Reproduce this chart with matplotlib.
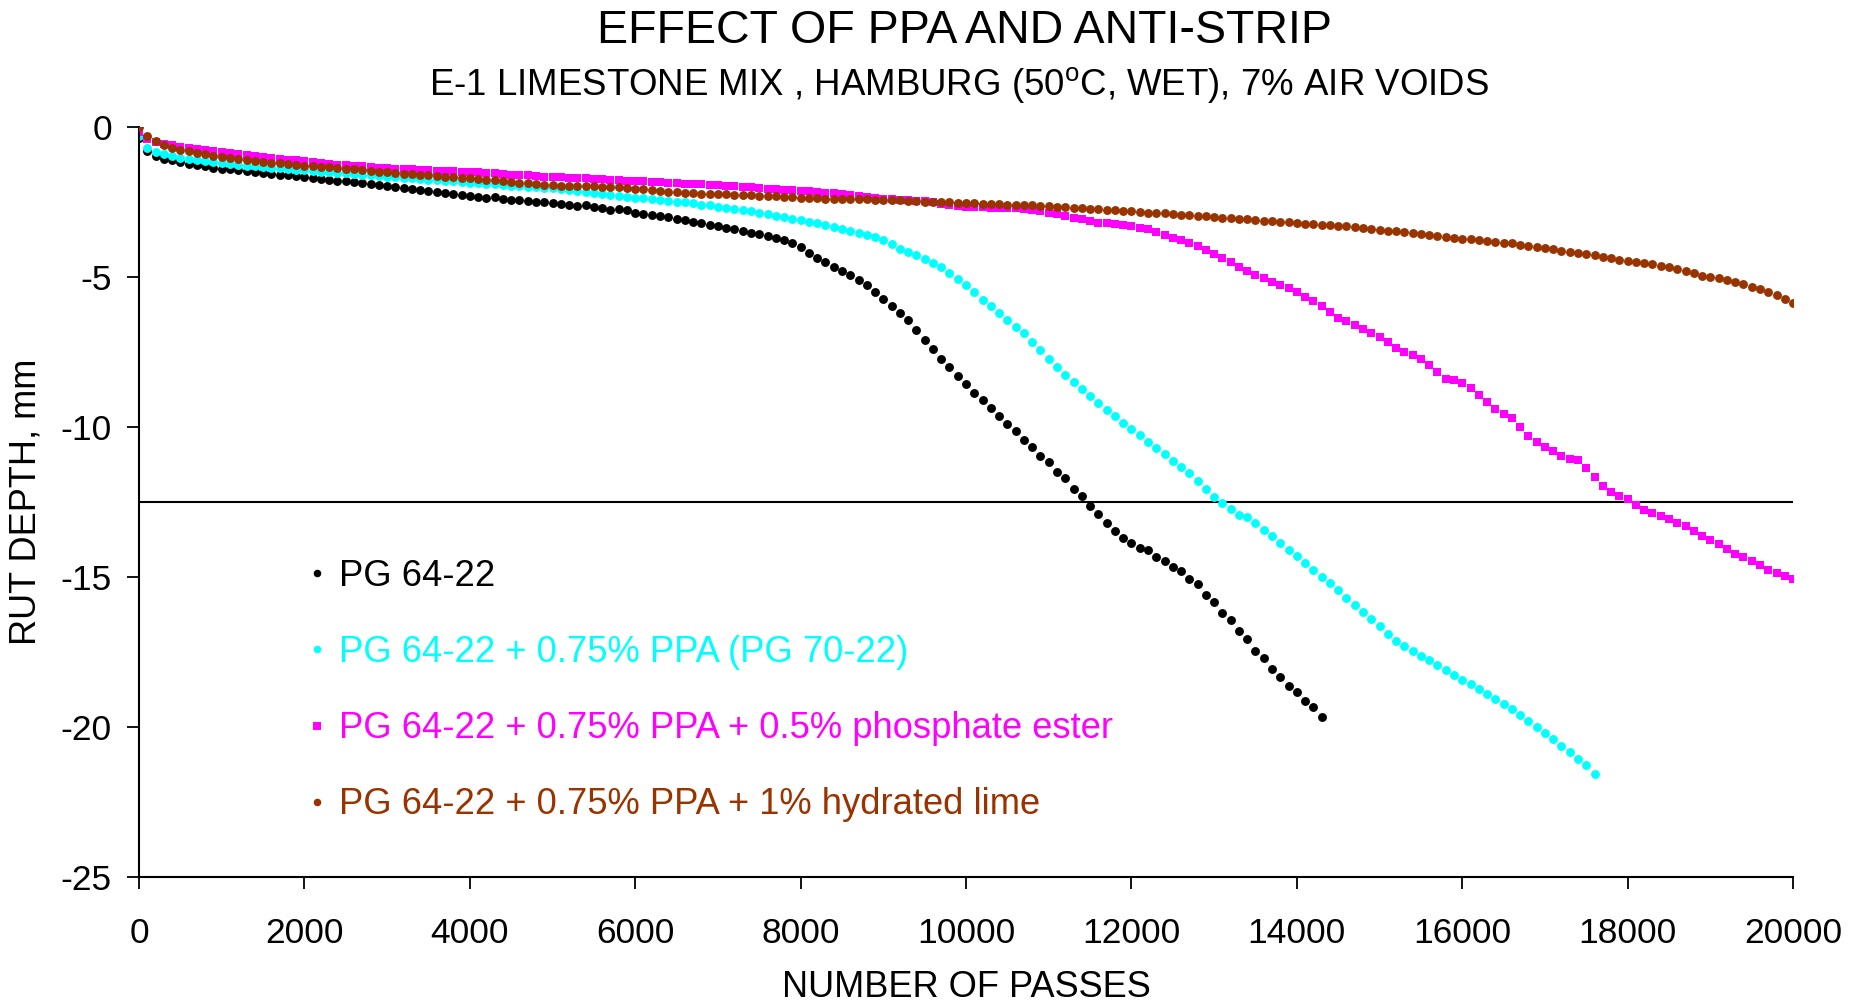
import numpy as np
import matplotlib
matplotlib.use("Agg")
import matplotlib.pyplot as plt

plt.rcParams['font.family'] = ['Liberation Sans', 'DejaVu Sans']
plt.rcParams['axes.unicode_minus'] = False
plt.rcParams['mathtext.fontset'] = 'custom'
plt.rcParams['mathtext.rm'] = 'Liberation Sans'

# %% data (rut depth in mm, read every 100 passes)
black_passes = np.arange(0, 14301, 100)
black_depth = [
    -0.35, -0.80, -0.95, -1.04, -1.10, -1.16, -1.21, -1.26, -1.30, -1.34,
    -1.37, -1.40, -1.43, -1.46, -1.48, -1.51, -1.54, -1.57, -1.60, -1.63,
    -1.66, -1.69, -1.72, -1.75, -1.77, -1.80, -1.83, -1.86, -1.89, -1.92,
    -1.95, -1.98, -2.02, -2.05, -2.08, -2.12, -2.15, -2.19, -2.22, -2.26,
    -2.29, -2.32, -2.36, -2.33, -2.38, -2.41, -2.43, -2.46, -2.48, -2.50,
    -2.52, -2.55, -2.58, -2.62, -2.60, -2.66, -2.70, -2.74, -2.72, -2.76,
    -2.84, -2.88, -2.93, -2.97, -3.00, -3.05, -3.10, -3.16, -3.20, -3.25,
    -3.30, -3.34, -3.40, -3.45, -3.52, -3.57, -3.63, -3.70, -3.76, -3.85,
    -4.00, -4.18, -4.35, -4.50, -4.65, -4.79, -4.93, -5.10, -5.27, -5.50,
    -5.72, -5.95, -6.19, -6.42, -6.75, -7.10, -7.38, -7.72, -8.00, -8.30,
    -8.55, -8.85, -9.08, -9.35, -9.62, -9.90, -10.12, -10.42, -10.65, -10.95,
    -11.15, -11.48, -11.70, -12.05, -12.28, -12.62, -12.88, -13.20, -13.45, -13.70,
    -13.85, -14.02, -14.10, -14.32, -14.45, -14.65, -14.80, -15.05, -15.22, -15.58,
    -15.82, -16.18, -16.42, -16.80, -17.05, -17.45, -17.70, -18.08, -18.32, -18.62,
    -18.82, -19.12, -19.32, -19.68,
]

cyan_passes = np.arange(0, 17601, 100)
cyan_depth = [
    -0.30, -0.68, -0.82, -0.90, -0.96, -1.01, -1.05, -1.09, -1.13, -1.16,
    -1.19, -1.22, -1.25, -1.28, -1.30, -1.32, -1.34, -1.36, -1.39, -1.41,
    -1.43, -1.45, -1.47, -1.49, -1.51, -1.53, -1.55, -1.58, -1.60, -1.62,
    -1.64, -1.66, -1.68, -1.70, -1.72, -1.74, -1.76, -1.78, -1.80, -1.82,
    -1.84, -1.86, -1.88, -1.90, -1.92, -1.94, -1.96, -1.98, -2.00, -2.01,
    -2.03, -2.06, -2.09, -2.12, -2.15, -2.18, -2.21, -2.24, -2.28, -2.31,
    -2.34, -2.36, -2.39, -2.41, -2.44, -2.47, -2.50, -2.53, -2.57, -2.60,
    -2.64, -2.68, -2.72, -2.76, -2.80, -2.85, -2.90, -2.95, -3.00, -3.05,
    -3.10, -3.15, -3.19, -3.25, -3.31, -3.38, -3.45, -3.52, -3.59, -3.67,
    -3.75, -3.90, -4.05, -4.15, -4.27, -4.40, -4.52, -4.66, -4.85, -5.05,
    -5.25, -5.50, -5.74, -5.97, -6.20, -6.42, -6.64, -6.87, -7.15, -7.43,
    -7.71, -8.00, -8.27, -8.50, -8.73, -8.96, -9.19, -9.42, -9.64, -9.85,
    -10.06, -10.27, -10.48, -10.69, -10.90, -11.11, -11.32, -11.53, -11.78, -12.05,
    -12.32, -12.52, -12.72, -12.92, -13.00, -13.20, -13.42, -13.64, -13.86, -14.08,
    -14.30, -14.52, -14.75, -14.98, -15.21, -15.44, -15.68, -15.92, -16.16, -16.40,
    -16.64, -16.88, -17.12, -17.30, -17.46, -17.62, -17.78, -17.94, -18.10, -18.26,
    -18.42, -18.58, -18.74, -18.90, -19.06, -19.22, -19.39, -19.60, -19.80, -20.00,
    -20.20, -20.40, -20.62, -20.83, -21.05, -21.25, -21.55,
]

magenta_passes = np.arange(0, 20001, 100)
magenta_depth = [
    -0.15, -0.40, -0.50, -0.56, -0.60, -0.64, -0.68, -0.72, -0.75, -0.78,
    -0.81, -0.84, -0.88, -0.92, -0.95, -0.98, -1.01, -1.04, -1.07, -1.10,
    -1.13, -1.16, -1.19, -1.22, -1.24, -1.26, -1.28, -1.30, -1.32, -1.34,
    -1.35, -1.37, -1.39, -1.40, -1.41, -1.42, -1.44, -1.45, -1.46, -1.48,
    -1.49, -1.50, -1.52, -1.53, -1.55, -1.57, -1.59, -1.60, -1.62, -1.64,
    -1.65, -1.66, -1.67, -1.69, -1.70, -1.71, -1.72, -1.74, -1.75, -1.77,
    -1.78, -1.80, -1.81, -1.83, -1.84, -1.86, -1.87, -1.89, -1.90, -1.91,
    -1.92, -1.94, -1.96, -1.98, -2.00, -2.02, -2.04, -2.06, -2.08, -2.10,
    -2.12, -2.13, -2.14, -2.17, -2.20, -2.23, -2.26, -2.29, -2.32, -2.35,
    -2.37, -2.39, -2.41, -2.42, -2.44, -2.46, -2.50, -2.54, -2.58, -2.62,
    -2.64, -2.65, -2.66, -2.67, -2.68, -2.69, -2.70, -2.72, -2.75, -2.80,
    -2.85, -2.90, -2.96, -3.01, -3.06, -3.12, -3.18, -3.20, -3.22, -3.26,
    -3.30, -3.35, -3.40, -3.50, -3.60, -3.68, -3.76, -3.85, -3.94, -4.08,
    -4.22, -4.36, -4.50, -4.64, -4.78, -4.92, -5.03, -5.14, -5.25, -5.36,
    -5.50, -5.65, -5.78, -5.95, -6.15, -6.35, -6.45, -6.58, -6.72, -6.85,
    -6.98, -7.17, -7.37, -7.48, -7.58, -7.72, -7.93, -8.15, -8.38, -8.41,
    -8.52, -8.70, -8.92, -9.15, -9.40, -9.55, -9.68, -9.98, -10.30, -10.50,
    -10.65, -10.80, -10.95, -11.07, -11.10, -11.35, -11.65, -11.95, -12.15, -12.30,
    -12.40, -12.60, -12.75, -12.85, -12.95, -13.05, -13.18, -13.30, -13.45, -13.62,
    -13.75, -13.90, -14.05, -14.22, -14.32, -14.45, -14.60, -14.75, -14.85, -14.95,
    -15.05,
]

brown_passes = np.arange(0, 20001, 100)
brown_depth = [
    0.00, -0.30, -0.45, -0.57, -0.67, -0.74, -0.80, -0.85, -0.90, -0.94,
    -0.98, -1.02, -1.05, -1.09, -1.11, -1.14, -1.17, -1.20, -1.22, -1.24,
    -1.27, -1.29, -1.31, -1.33, -1.35, -1.38, -1.40, -1.43, -1.45, -1.48,
    -1.50, -1.52, -1.55, -1.56, -1.58, -1.60, -1.62, -1.64, -1.66, -1.68,
    -1.70, -1.72, -1.74, -1.76, -1.79, -1.81, -1.84, -1.86, -1.89, -1.91,
    -1.93, -1.94, -1.95, -1.95, -1.96, -1.96, -1.97, -1.97, -1.98, -2.01,
    -2.04, -2.06, -2.09, -2.11, -2.14, -2.16, -2.18, -2.20, -2.21, -2.21,
    -2.21, -2.22, -2.24, -2.25, -2.26, -2.28, -2.29, -2.30, -2.31, -2.33,
    -2.34, -2.35, -2.36, -2.37, -2.38, -2.38, -2.39, -2.40, -2.40, -2.41,
    -2.42, -2.43, -2.43, -2.44, -2.46, -2.47, -2.48, -2.49, -2.50, -2.51,
    -2.52, -2.53, -2.54, -2.55, -2.56, -2.57, -2.58, -2.59, -2.60, -2.62,
    -2.63, -2.65, -2.66, -2.68, -2.69, -2.71, -2.72, -2.74, -2.76, -2.78,
    -2.80, -2.82, -2.84, -2.86, -2.87, -2.89, -2.91, -2.93, -2.95, -2.97,
    -2.99, -3.01, -3.03, -3.05, -3.07, -3.09, -3.11, -3.13, -3.15, -3.17,
    -3.19, -3.21, -3.23, -3.24, -3.26, -3.28, -3.30, -3.33, -3.36, -3.39,
    -3.42, -3.45, -3.47, -3.50, -3.53, -3.56, -3.59, -3.62, -3.65, -3.68,
    -3.71, -3.73, -3.76, -3.79, -3.81, -3.84, -3.87, -3.91, -3.95, -3.99,
    -4.03, -4.07, -4.11, -4.15, -4.19, -4.23, -4.27, -4.32, -4.37, -4.42,
    -4.46, -4.50, -4.52, -4.56, -4.62, -4.67, -4.73, -4.80, -4.87, -4.95,
    -4.98, -5.03, -5.08, -5.14, -5.22, -5.32, -5.40, -5.50, -5.60, -5.72,
    -5.85,
]

labels = ["PG 64-22",
          "PG 64-22 + 0.75% PPA (PG 70-22)",
          "PG 64-22 + 0.75% PPA + 0.5% phosphate ester",
          "PG 64-22 + 0.75% PPA + 1% hydrated lime"]
colors = ["#000000", "#00FFFF", "#FF00FF", "#993300"]
failure_depth = -12.5

# %% plot
fig = plt.figure(figsize=(18.51, 10.02), dpi=100)
ax = fig.add_axes([0.0751, 0.1248, 0.8936, 0.748])

ax.axhline(failure_depth, color="black", lw=1.5, zorder=1)

h1, = ax.plot(black_passes, black_depth, "o", ms=6.4, color=colors[0], mew=0, zorder=2)
h2, = ax.plot(cyan_passes, cyan_depth, "o", ms=6.4, color=colors[1], mew=0, zorder=2)
h3, = ax.plot(magenta_passes, magenta_depth, "s", ms=6.0, color=colors[2], mew=0, zorder=2)
h4, = ax.plot(brown_passes, brown_depth, "o", ms=6.4, color=colors[3], mew=0, zorder=3)

ax.set_xlim(0, 20000)
ax.set_ylim(-25, 0)
ax.set_xticks(np.arange(0, 20001, 2000))
ax.set_yticks(np.arange(-25, 1, 5))

for s in ["top", "right"]:
    ax.spines[s].set_visible(False)
for s in ["left", "bottom"]:
    ax.spines[s].set_linewidth(1.5)

ax.tick_params(axis="both", direction="out", length=8.5, width=1.3, labelsize=25.5)
ax.tick_params(axis="x", pad=20)
ax.tick_params(axis="y", pad=11)

leg = ax.legend([h1, h2, h3, h4], labels, loc="upper left",
                bbox_to_anchor=(0.1651, 0.442), bbox_transform=fig.transFigure,
                frameon=False, fontsize=26.2, numpoints=1, handlelength=0.6,
                handletextpad=0.33, labelspacing=1.13, borderpad=0,
                borderaxespad=0, labelcolor="markerfacecolor", markerscale=0.85)

fig.text(0.521, 0.969, "EFFECT OF PPA AND ANTI-STRIP", ha="center", va="center",
         fontsize=33.5)
fig.text(0.518, 0.915, r"E-1 LIMESTONE MIX , HAMBURG (50$^{\mathrm{o}}$C, WET), 7% AIR VOIDS",
         ha="center", va="center", fontsize=26.4)
fig.text(0.522, 0.0143, "NUMBER OF PASSES", ha="center", va="center", fontsize=26)
fig.text(0.014, 0.499, "RUT DEPTH, mm", ha="center", va="center", rotation=90, fontsize=26)

plt.savefig("out.png", dpi=100)
